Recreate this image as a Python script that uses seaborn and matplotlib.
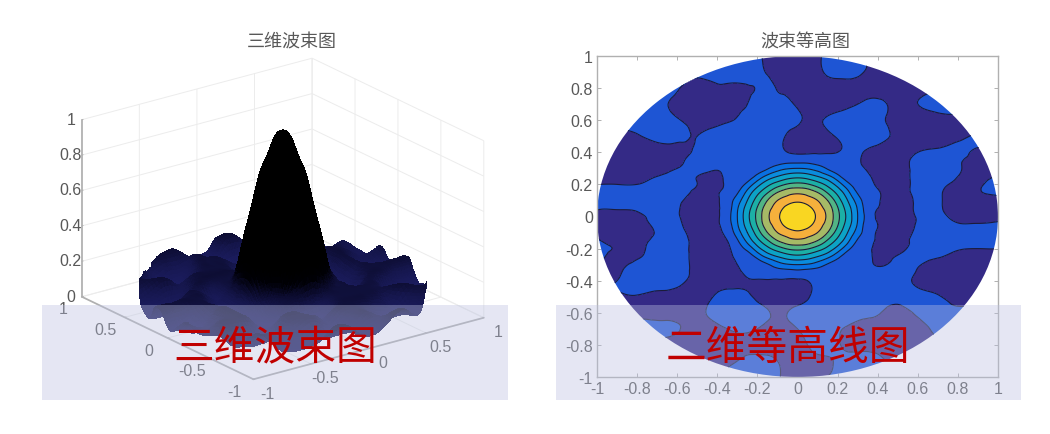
import numpy as np
import matplotlib
matplotlib.use("Agg")
import matplotlib.pyplot as plt
from matplotlib.patches import Circle, Rectangle
from matplotlib.tri import Triangulation, UniformTriRefiner
import seaborn as sns

left_title = "三维波束图"
right_title = "波束等高图"
left_caption = "三维波束图"
right_caption = "二维等高线图"

grid_x = [-1, -.9, -.8, -.7, -.6, -.5, -.4, -.35, -.3, -.25, -.2, -.15, -.1, -.05, 0,
          .05, .1, .15, .2, .25, .3, .35, .4, .5, .6, .7, .8, .9, 1]
grid_y = [1, .9, .8, .7, .6, .5, .4, .35, .3, .25, .2, .15, .1, .05, 0,
          -.05, -.1, -.15, -.2, -.25, -.3, -.35, -.4, -.5, -.6, -.7, -.8, -.9, -1]
# beam amplitude in hundredths (rows follow grid_y)
beam = [
 [14,14,14,14,14,14,14,14,14,14,12,7,5,5,5,6,8,13,14,14,12,9,6,6,6,6,6,6,6],
 [14,14,14,14,14,13,14,14,14,14,13,9,6,4,4,4,7,12,14,14,12,9,8,5,5,5,5,5,5],
 [14,14,14,13,11,5,8,8,8,9,11,14,9,7,6,5,4,4,4,5,6,6,6,5,7,9,9,9,9],
 [14,14,14,12,8,4,4,5,7,10,14,14,14,12,9,7,5,5,6,8,10,12,12,8,10,12,13,13,13],
 [14,14,14,14,11,6,7,9,11,14,14,14,14,13,11,9,9,11,13,14,14,14,12,7,6,7,7,7,7],
 [7,7,9,13,13,10,14,14,14,14,14,14,13,9,7,6,6,8,11,14,14,14,13,8,6,5,8,11,11],
 [5,5,5,6,7,12,15,15,15,15,15,14,12,10,9,9,9,9,10,12,11,9,7,6,10,12,12,9,10],
 [4,4,4,5,8,14,15,15,15,15,15,15,15,16,16,16,15,15,15,14,11,8,6,6,13,14,11,8,8],
 [4,4,4,4,10,14,11,13,14,14,15,19,25,29,30,29,25,19,15,14,12,9,6,6,13,14,11,7,7],
 [4,4,5,10,14,10,8,12,14,15,23,33,40,45,47,45,40,33,23,15,14,11,8,6,13,14,10,8,11],
 [10,10,10,13,14,10,7,12,15,23,36,47,55,61,63,61,55,47,36,23,15,12,9,6,13,13,8,9,13],
 [14,14,14,14,14,8,9,13,19,33,47,59,70,76,78,76,70,59,47,33,19,14,11,6,13,12,5,9,12],
 [14,14,14,14,12,6,9,15,25,40,55,70,80,85,88,85,80,70,55,40,25,15,11,5,12,12,4,6,7],
 [11,11,12,14,11,5,9,15,29,45,61,76,85,94,97,94,85,76,61,45,29,15,10,5,12,12,4,4,5],
 [6,5,7,13,11,5,9,16,30,47,63,78,88,97,100,97,88,78,63,47,30,16,9,5,11,13,6,4,7],
 [5,5,6,12,12,5,9,15,29,45,61,76,85,94,97,94,85,76,61,45,29,15,10,5,11,14,11,11,12],
 [8,4,4,11,13,6,8,13,25,40,55,70,80,85,88,85,80,70,55,40,25,15,9,5,12,14,14,14,14],
 [11,6,6,13,14,7,6,10,19,33,47,59,70,76,78,76,70,59,47,33,19,14,8,5,13,14,14,14,14],
 [13,9,8,14,14,7,5,8,15,23,36,47,55,61,63,61,55,47,36,23,15,12,7,6,14,14,11,10,10],
 [13,7,9,14,14,7,5,7,12,15,23,33,40,45,47,45,40,33,23,15,14,13,7,11,14,11,7,6,6],
 [10,8,12,14,14,7,4,6,10,13,15,19,25,29,30,29,25,19,15,14,14,13,9,13,11,6,5,5,5],
 [9,9,14,14,14,7,4,5,8,12,14,15,15,15,16,15,15,15,14,14,14,14,13,14,9,5,4,4,4],
 [10,10,14,14,13,6,5,6,7,9,9,9,9,9,9,10,12,14,14,14,14,14,14,13,8,5,5,7,7],
 [8,8,9,6,5,4,12,14,14,12,8,5,5,5,6,9,13,14,14,14,14,14,14,13,14,11,6,5,5],
 [6,6,6,5,5,7,13,14,14,14,13,11,8,10,13,14,14,14,14,14,13,12,11,6,12,14,13,14,14],
 [14,14,14,13,11,6,8,10,12,12,10,7,6,7,10,12,13,13,11,9,7,6,5,5,7,12,14,14,14],
 [7,7,7,7,5,5,4,4,5,6,5,5,5,6,8,10,13,13,11,8,7,7,7,6,6,8,10,10,10],
 [5,5,5,5,5,5,7,8,10,13,14,13,10,7,6,7,8,9,11,13,14,14,12,8,6,6,6,6,6],
 [5,5,5,5,5,8,10,12,12,14,14,14,11,8,7,7,8,10,12,14,14,14,14,14,14,14,14,14,14],
]
contour_levels = [0, 10, 20, 30, 40, 50, 60, 70, 80, 90, 100]
contour_colors = ["#342A86", "#1E55D4", "#0970E2", "#0A8CDD", "#0CA3C6", "#1CB0A6",
                  "#52B585", "#A6BA66", "#F5B03C", "#F9D622"]
xticks_2d = [-1, -.8, -.6, -.4, -.2, 0, .2, .4, .6, .8, 1]
ticks_3d = [-1, -.5, 0, .5, 1]
zticks_3d = [0, .2, .4, .6, .8, 1]

sns.set_theme(style="white")
plt.rcParams["font.family"] = ["Liberation Sans", "Noto Sans CJK SC", "DejaVu Sans"]
W, H = 1050, 435
fig = plt.figure(figsize=(W / 100, H / 100), dpi=100, facecolor="white")
grey = "#585858"
frame = "#b0b0b0"

def box(l, t, r, b):
    return [l / W, 1 - b / H, (r - l) / W, (b - t) / H]

X, Y = np.meshgrid(grid_x, grid_y)
Z = np.array(beam, dtype=float) / 100
tri = Triangulation(X.ravel(), Y.ravel())
refiner = UniformTriRefiner(tri)

# ---------- contour panel
ax2 = fig.add_axes(box(597, 57, 998, 378))
lv = np.array(contour_levels) / 100
t2, z2 = refiner.refine_field(Z.ravel(), subdiv=3)
z2 = np.clip(z2, 0.001, 0.999)
filled = ax2.tricontourf(t2, z2, levels=lv, colors=sns.color_palette(contour_colors))
lines = ax2.tricontour(t2, z2, levels=lv[1:-1], colors="#1b1b3a", linewidths=0.8)
clip = Circle((0, 0), 1, transform=ax2.transData)
filled.set_clip_path(clip)
lines.set_clip_path(clip)
ax2.set_xlim(-1, 1)
ax2.set_ylim(-1, 1)
ax2.set_xticks(xticks_2d, [f"{v:g}" for v in xticks_2d])
ax2.set_yticks(xticks_2d, [f"{v:g}" for v in xticks_2d])
ax2.tick_params(direction="in", length=3, width=0.7, color=frame, labelcolor=grey,
                labelsize=11.5, top=True, right=True, bottom=True, left=True, pad=3)
for s in ax2.spines.values():
    s.set_color(frame)
    s.set_linewidth(1.0)
fig.text(805 / W, 1 - 43 / H, right_title, ha="center", va="center", fontsize=13, color=grey)

# ---------- 3-D panel
ax1 = fig.add_axes(box(27.5, 30, 527.5, 420), projection="3d", proj_type="ortho")
ax1.view_init(elev=21, azim=-126.7)
ax1.set_box_aspect((1, 1, 0.66), zoom=1.116)
t1, z1 = refiner.refine_field(Z.ravel(), subdiv=2)
node_r = np.hypot(t1.x, t1.y)
node_scale = np.maximum(node_r, 1)
outside = (node_r[t1.triangles] > 1).all(axis=1)
t1 = Triangulation(t1.x / node_scale, t1.y / node_scale, t1.triangles, mask=outside)
shades = sns.blend_palette(["#1b1c5e", "#15164c", "#0a0a2a", "#000005", "#000000"], as_cmap=True)
ax1.plot_trisurf(t1, z1, cmap=shades, vmin=0.04, vmax=0.3, shade=False,
                 linewidth=0, antialiased=False)
ax1.set_xlim(-1, 1)
ax1.set_ylim(-1, 1)
ax1.set_zlim(0, 1)
ax1.set_xticks(ticks_3d, [f"{v:g}" for v in ticks_3d])
ax1.set_yticks(ticks_3d, [f"{v:g}" for v in ticks_3d])
ax1.set_zticks(zticks_3d, [f"{v:g}" for v in zticks_3d])
ax1.tick_params(labelsize=11.5, labelcolor=grey, color=frame)
ax1.tick_params(axis="x", pad=4)
ax1.tick_params(axis="y", pad=4)
ax1.tick_params(axis="z", pad=-4)
for axis in (ax1.xaxis, ax1.yaxis, ax1.zaxis):
    axis.set_pane_color((1, 1, 1, 0))
    axis.pane.set_edgecolor("#e6e6e6")
    axis.line.set_color(frame)
    axis._axinfo["grid"].update(color="#ececec", linewidth=0.7)
    axis._axinfo["tick"].update(color=frame, inward_factor=0.0, outward_factor=0.08,
                                linewidth={True: 0.6, False: 0.4})
for lbl in list(ax1.get_xticklabels()) + list(ax1.get_yticklabels()):
    lbl.set_va("bottom")
for lbl in ax1.get_zticklabels():
    lbl.set_va("center")
ax1.patch.set_alpha(0)
fig.text(292 / W, 1 - 43 / H, left_title, ha="center", va="center", fontsize=13, color=grey)

# ---------- translucent caption bands
for (l, r, cap, cx_px) in [(42, 508, left_caption, 275), (556, 1021, right_caption, 788)]:
    fig.add_artist(Rectangle((l / W, 1 - 401 / H), (r - l) / W, 95 / H, transform=fig.transFigure,
                             facecolor=(188 / 255, 193 / 255, 225 / 255), alpha=0.39,
                             edgecolor="none", zorder=5))
    fig.text(cx_px / W, 1 - 349 / H, cap, ha="center", va="center", fontsize=29.3, color="#C00000",
             family=["Noto Sans CJK SC", "DejaVu Sans"], zorder=6)

fig.savefig("out.png", dpi=100)
